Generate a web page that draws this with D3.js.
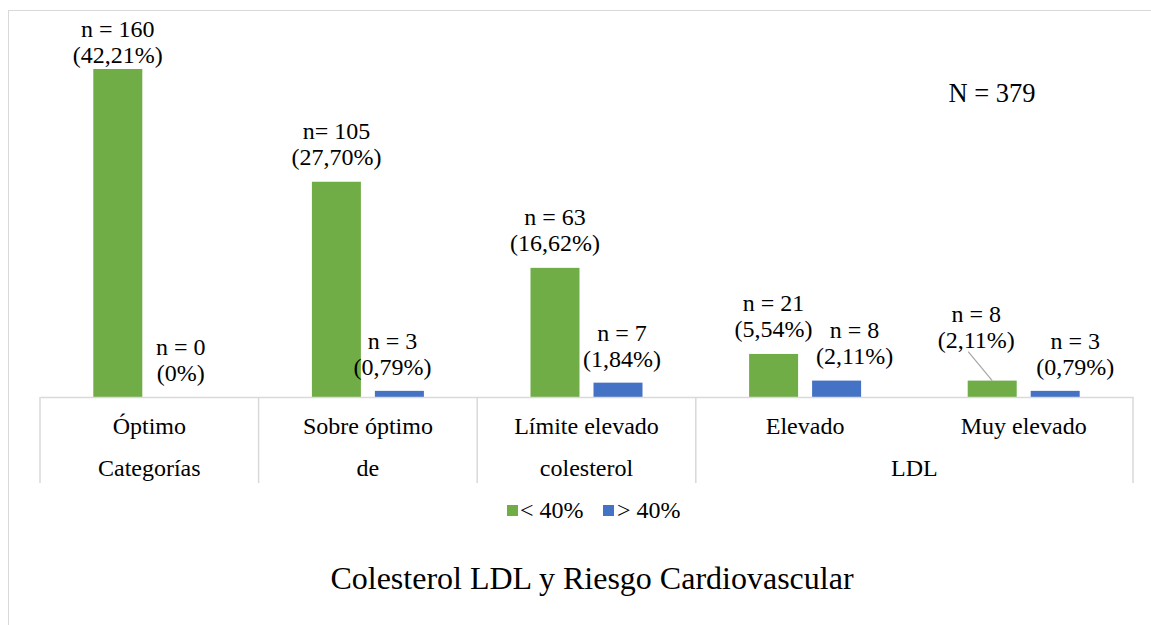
<!DOCTYPE html>
<html>
<head>
<meta charset="utf-8">
<script src="https://cdn.jsdelivr.net/npm/d3@7"></script>
<style>
  html, body { margin: 0; padding: 0; background: #fff; }
  svg { display: block; }
  text { font-family: "Liberation Serif", "Times New Roman", serif; fill: #000; }
</style>
</head>
<body>
<svg id="chart" width="1151" height="625"></svg>
<script>
// ---- data ----
const categories = ["Óptimo", "Sobre óptimo", "Límite elevado", "Elevado", "Muy elevado"];
const groupLabels = ["Categorías", "de", "colesterol", "LDL"];
const groupSpans = [1, 1, 1, 2];
const seriesNames = ["< 40%", "> 40%"];
const seriesLow = [160, 105, 63, 21, 8];
const seriesHigh = [0, 3, 7, 8, 3];
const labelsLow = [["n = 160", "(42,21%)"], ["n= 105", "(27,70%)"], ["n = 63", "(16,62%)"], ["n = 21", "(5,54%)"], ["n = 8", "(2,11%)"]];
const labelsHigh = [["n = 0", "(0%)"], ["n = 3", "(0,79%)"], ["n = 7", "(1,84%)"], ["n = 8", "(2,11%)"], ["n = 3", "(0,79%)"]];
const totalLabel = "N = 379";
const title = "Colesterol LDL y Riesgo Cardiovascular";

// ---- layout ----
const colors = ["#70AD47", "#4472C4"];
const svg = d3.select("#chart");
const left = 40, right = 1133, baseY = 397, topY = 69;
const gridColor = "#d9d9d9";

// outer chart border
svg.append("rect").attr("x", 8.5).attr("y", 10.5).attr("width", 1200).attr("height", 700)
  .attr("fill", "#fff").attr("stroke", gridColor).attr("stroke-width", 1);

const x0 = d3.scaleBand().domain(categories).range([left, right]).paddingInner(0).paddingOuter(0);
const y = d3.scaleLinear().domain([0, 160]).range([baseY, topY]);

const barW = 49, gap = 14;
function barX(i, s) {
  const c = x0(categories[i]) + x0.bandwidth() / 2;
  return c - gap / 2 - barW + s * (barW + gap);
}

const series = [seriesLow, seriesHigh];
const labels = [labelsLow, labelsHigh];
// label tweaks (dx relative to bar centre, dy baseline of second line above bar top)
const labelOffsets = [
  [[0, -6], [0, -17], [0, -17], [0, -17], [-16, -33]],
  [[0, -16], [-7, -16], [4, -16], [18, -17], [20, -16]]
];

series.forEach((vals, s) => {
  svg.append("g").selectAll("rect").data(vals).join("rect")
    .attr("x", (d, i) => barX(i, s))
    .attr("y", d => y(d))
    .attr("width", barW)
    .attr("height", d => baseY - y(d))
    .attr("fill", colors[s]);
});

// axis line & category separators
const axis = d3.axisBottom(x0).tickSize(0).tickFormat("");
const axG = svg.append("g").attr("transform", `translate(0,${baseY})`).call(axis);
axG.select(".domain").attr("stroke", gridColor).attr("stroke-width", 1.5);

const rowBottom = 483;
let acc = 0;
const groupBounds = [0];
groupSpans.forEach(sp => { acc += sp; groupBounds.push(acc); });
groupBounds.forEach(b => {
  const xx = b < categories.length ? x0(categories[b]) : right;
  svg.append("line").attr("x1", xx).attr("x2", xx).attr("y1", baseY).attr("y2", rowBottom)
    .attr("stroke", gridColor).attr("stroke-width", 1.5);
});

// category labels row 1
svg.append("g").selectAll("text").data(categories).join("text")
  .attr("x", d => x0(d) + x0.bandwidth() / 2)
  .attr("y", 434)
  .attr("text-anchor", "middle")
  .attr("font-size", 24)
  .text(d => d);

// group labels row 2
groupLabels.forEach((g, k) => {
  const a = x0(categories[groupBounds[k]]);
  const b = groupBounds[k + 1] < categories.length ? x0(categories[groupBounds[k + 1]]) : right;
  svg.append("text").attr("x", (a + b) / 2).attr("y", 476)
    .attr("text-anchor", "middle").attr("font-size", 24).text(g);
});

// data labels
series.forEach((vals, s) => {
  vals.forEach((v, i) => {
    const cx = barX(i, s) + barW / 2 + labelOffsets[s][i][0];
    const b2 = y(v) + labelOffsets[s][i][1];
    const t = svg.append("text").attr("text-anchor", "middle").attr("font-size", 24);
    t.append("tspan").attr("x", cx).attr("y", b2 - 26).text(labels[s][i][0]);
    t.append("tspan").attr("x", cx).attr("y", b2).text(labels[s][i][1]);
  });
});

// leader line for the small green "Muy elevado" bar
{
  const i = 4;
  const cx = barX(i, 0) + barW / 2;
  svg.append("line").attr("x1", cx - 24).attr("y1", y(seriesLow[i]) - 29)
    .attr("x2", cx).attr("y2", y(seriesLow[i]))
    .attr("stroke", "#a6a6a6").attr("stroke-width", 1.2);
}

// N label
svg.append("text").attr("x", 992).attr("y", 102).attr("text-anchor", "middle")
  .attr("font-size", 26.5).text(totalLabel);

// legend
const legendItems = [[507, 520], [603, 617]];
seriesNames.forEach((n, s) => {
  svg.append("rect").attr("x", legendItems[s][0]).attr("y", 505).attr("width", 11).attr("height", 11).attr("fill", colors[s]);
  svg.append("text").attr("x", legendItems[s][1]).attr("y", 518).attr("font-size", 24).text(n);
});

// title
svg.append("text").attr("x", 592).attr("y", 589).attr("text-anchor", "middle")
  .attr("font-size", 32).text(title);
</script>
</body>
</html>
